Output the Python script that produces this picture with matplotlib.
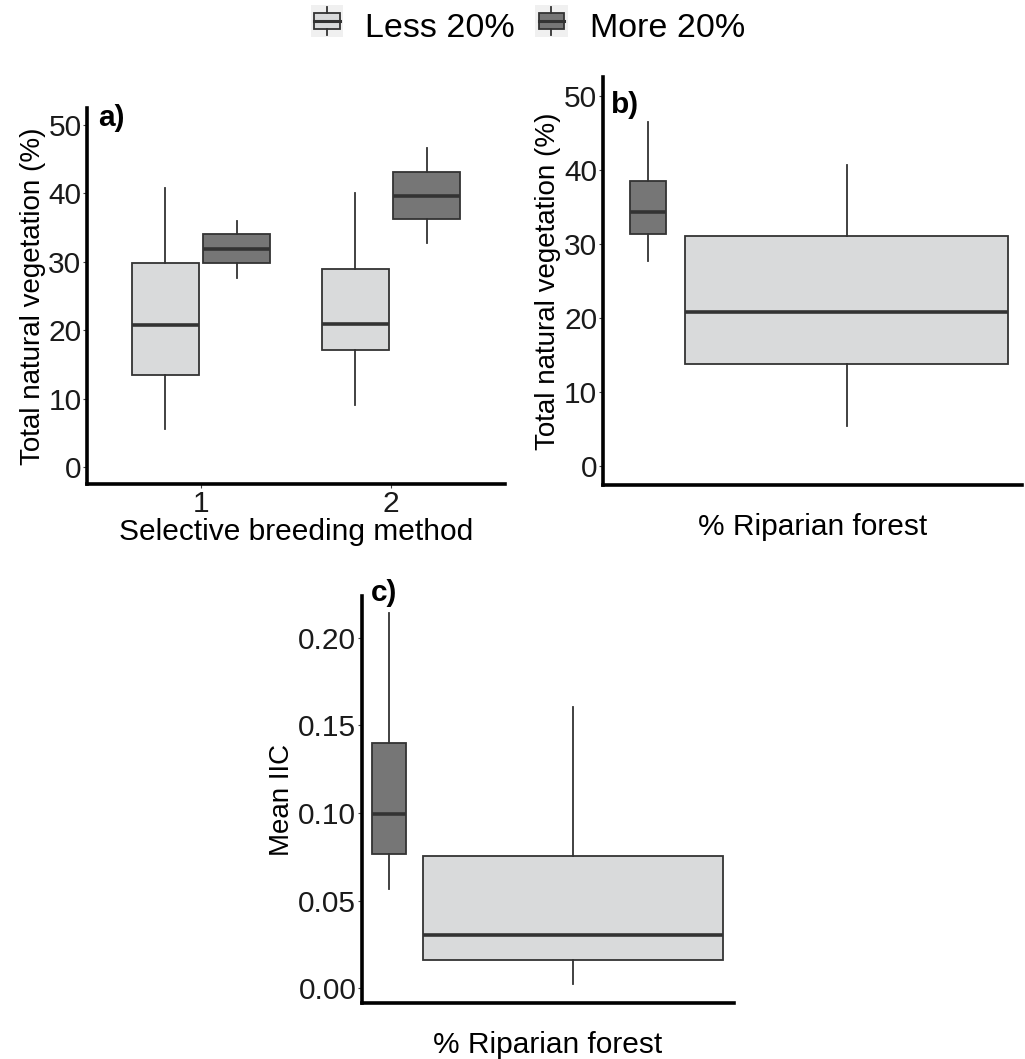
import matplotlib
matplotlib.use("Agg")
import matplotlib.pyplot as plt
from matplotlib.legend_handler import HandlerBase
from matplotlib.patches import Rectangle
from matplotlib.lines import Line2D

plt.rcParams['font.family'] = ['Liberation Sans', 'DejaVu Sans']

# box statistics: whislo, q1, med, q3, whishi
groups = ["Less 20%", "More 20%"]

a_categories = ["1", "2"]
a_less = [[5.5, 13.5, 20.7, 29.8, 40.8], [9.1, 17.1, 20.9, 28.9, 40.0]]
a_more = [[27.7, 29.8, 31.9, 34.0, 35.9], [32.7, 36.2, 39.7, 43.1, 46.6]]

b_less = [5.5, 13.8, 20.8, 31.1, 40.7]
b_more = [27.7, 31.4, 34.3, 38.5, 46.5]

c_less = [0.0025, 0.0162, 0.0304, 0.0755, 0.1607]
c_more = [0.0565, 0.0765, 0.0995, 0.1402, 0.214]

fill_less = "#d9dadb"
fill_more = "#767676"
edge = "#333333"
fs = 21.5
fs_ylab = 20


def stats(v):
    return dict(whislo=v[0], q1=v[1], med=v[2], q3=v[3], whishi=v[4], fliers=[])


def draw_boxes(ax, vals, fills, pos, widths):
    bp = ax.bxp([stats(v) for v in vals], positions=pos, widths=widths,
                showcaps=False, showfliers=False, patch_artist=True,
                boxprops=dict(edgecolor=edge, linewidth=1.3),
                medianprops=dict(color=edge, linewidth=2.6, solid_capstyle='butt'),
                whiskerprops=dict(color=edge, linewidth=1.3))
    for patch, f in zip(bp['boxes'], fills):
        patch.set_facecolor(f)


def style(ax):
    for s in ['top', 'right']:
        ax.spines[s].set_visible(False)
    for s in ['left', 'bottom']:
        ax.spines[s].set_linewidth(2.6)
        ax.spines[s].set_color('black')
    ax.tick_params(labelsize=fs, length=3, width=0.8, color='#444444',
                   labelcolor='#1a1a1a', pad=1)


class BoxKey(HandlerBase):
    def __init__(self, fill):
        super().__init__()
        self.fill = fill

    def create_artists(self, legend, orig_handle, xd, yd, width, height, fontsize, trans):
        s = width
        x0 = xd
        y0 = yd + (height - s) / 2
        bg = Rectangle((x0, y0), s, s, facecolor='#f0f0f0', edgecolor='none', transform=trans)
        box = Rectangle((x0 + s * 0.1, y0 + s * 0.25), s * 0.8, s * 0.5,
                        facecolor=self.fill, edgecolor=edge, linewidth=1.3, transform=trans)
        cx = x0 + s / 2
        w1 = Line2D([cx, cx], [y0 + s * 0.06, y0 + s * 0.25], color=edge, lw=1.3, transform=trans)
        w2 = Line2D([cx, cx], [y0 + s * 0.75, y0 + s * 0.94], color=edge, lw=1.3, transform=trans)
        med = Line2D([x0 + s * 0.1, x0 + s * 0.9], [y0 + s / 2, y0 + s / 2],
                     color=edge, lw=2.2, transform=trans)
        return [bg, box, w1, w2, med]


fig = plt.figure(figsize=(10.25, 10.59), dpi=100)

# panel a
ax1 = fig.add_axes([0.0849, 0.543, 0.4078, 0.355])
a_vals, a_fills, a_pos = [], [], []
for i, cat in enumerate(a_categories):
    a_vals += [a_less[i], a_more[i]]
    a_fills += [fill_less, fill_more]
    a_pos += [i + 1 - 0.1875, i + 1 + 0.1875]
draw_boxes(ax1, a_vals, a_fills, a_pos, 0.35)
ax1.set_xlim(0.4, 2.6)
ax1.set_xticks([1, 2])
ax1.set_xticklabels(a_categories)
ax1.set_ylim(-2.5, 52.5)
ax1.set_yticks([0, 10, 20, 30, 40, 50])
style(ax1)
ax1.set_xlabel("Selective breeding method", fontsize=fs, labelpad=0)
ax1.set_ylabel("Total natural vegetation (%)", fontsize=fs_ylab, labelpad=2)

# panel b
ax2 = fig.add_axes([0.588, 0.542, 0.409, 0.385])
draw_boxes(ax2, [b_more, b_less], [fill_more, fill_less], [0.107, 0.582], [0.086, 0.771])
ax2.set_xlim(0, 1)
ax2.set_xticks([])
ax2.set_ylim(-2.5, 52.5)
ax2.set_yticks([0, 10, 20, 30, 40, 50])
style(ax2)
ax2.set_xlabel("% Riparian forest", fontsize=fs, labelpad=20)
ax2.set_ylabel("Total natural vegetation (%)", fontsize=fs_ylab, labelpad=2)

# panel c
ax3 = fig.add_axes([0.353, 0.0529, 0.363, 0.3841])
draw_boxes(ax3, [c_more, c_less], [fill_more, fill_less], [0.073, 0.568], [0.089, 0.806])
ax3.set_xlim(0, 1)
ax3.set_xticks([])
ax3.set_ylim(-0.0084, 0.2238)
ax3.set_yticks([0.0, 0.05, 0.10, 0.15, 0.20])
ax3.set_yticklabels(["0.00", "0.05", "0.10", "0.15", "0.20"])
style(ax3)
ax3.set_xlabel("% Riparian forest", fontsize=fs, labelpad=20)
ax3.set_ylabel("Mean IIC", fontsize=fs_ylab, labelpad=2)

# panel tags
fig.text(98 / 1025, 1 - 118 / 1059, "a)", fontsize=fs, fontweight='bold', va='center')
fig.text(611 / 1025, 1 - 105 / 1059, "b)", fontsize=fs, fontweight='bold', va='center')
fig.text(371 / 1025, 1 - 593 / 1059, "c)", fontsize=fs, fontweight='bold', va='center')

# legend
h1 = Rectangle((0, 0), 1, 1)
h2 = Rectangle((0, 0), 1, 1)
fig.legend([h1, h2], groups, loc='center', bbox_to_anchor=(0.515, 1 - 28 / 1059),
           ncol=2, frameon=False, fontsize=24.5, handlelength=0.95, handleheight=0.9,
           handletextpad=0.65, columnspacing=0.6,
           handler_map={h1: BoxKey(fill_less), h2: BoxKey(fill_more)})

fig.savefig("out.png", dpi=100)
